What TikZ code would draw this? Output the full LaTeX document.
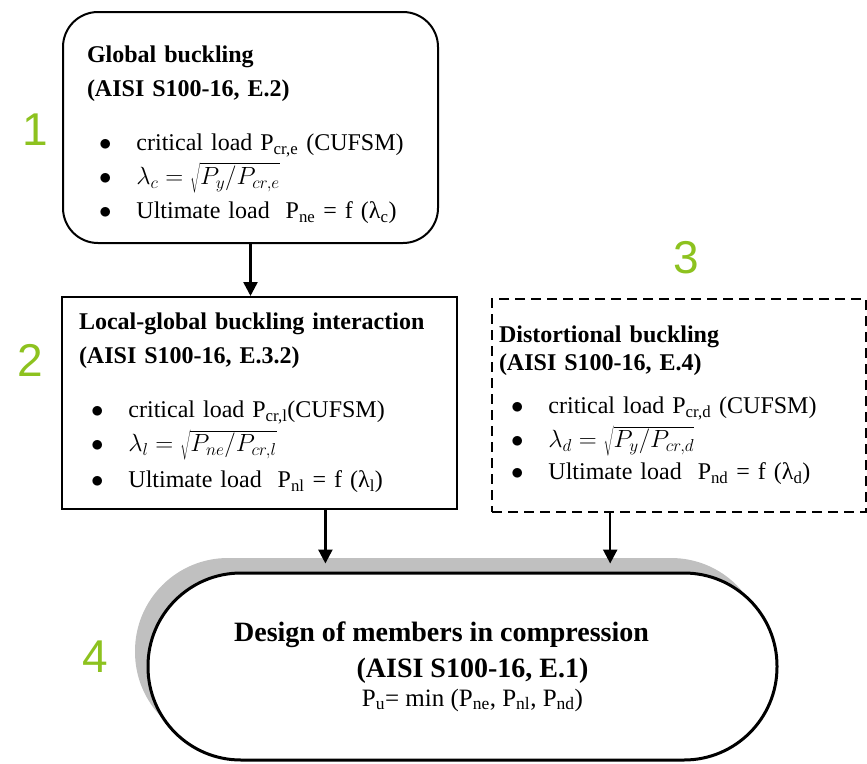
\documentclass[tikz,border=0pt]{standalone}
\usepackage{fontspec}
\setmainfont{Liberation Serif}
\newfontfamily\numfont{Liberation Sans}
\usetikzlibrary{arrows.meta, shadows, calc}
\definecolor{cgreen}{HTML}{8DC21F}
\definecolor{cshade}{HTML}{C0C0C0}
% bullet item for the check lists
\newcommand{\itm}{\hspace*{12pt}$\bullet$\hspace{25pt}}
\tikzset{
  every picture/.style={line width=2pt},
  box/.style={draw, anchor=north west, align=left, inner ysep=0pt, font=\fontsize{24}{34}\selectfont},
  capsule/.style={draw, line width=3pt, fill=white, rounded corners=93pt, align=center,
    minimum width=629pt, minimum height=187pt, inner sep=0pt, font=\fontsize{28}{36}\selectfont,
    general shadow={fill=cshade, shadow xshift=-13pt, shadow yshift=15pt}},
  arrow/.style={-{Triangle[length=14pt, width=14pt]}, line width=2.5pt},
  num/.style={font=\numfont\fontsize{46}{46}\selectfont, text=cgreen},
}

\begin{document}
\begin{tikzpicture}[x=1pt, y=-1pt]
  \useasboundingbox (0,0) rectangle (867,763);

  % the three buckling checks
  \node[box, rounded corners=35pt, minimum width=375pt, minimum height=231pt,
        text width=327pt, inner xsep=24pt] (glob) at (62,11) {%
    \rule{0pt}{31pt}\textbf{Global buckling}\\
    \textbf{(AISI S100-16, E.2)}\\[20pt]
    \itm critical load P\textsubscript{cr,e} (CUFSM)\\
    \itm $\lambda_c = \sqrt{P_y/P_{cr,e}}$\\
    \itm Ultimate load\ \ P\textsubscript{ne} = f (λ\textsubscript{c})};
  \node[box, minimum width=395pt, minimum height=212pt,
        text width=361pt, inner xsep=17pt] (loc) at (61,296) {%
    \textbf{Local-global buckling interaction}\\
    \textbf{(AISI S100-16, E.3.2)}\\[20pt]
    \itm critical load P\textsubscript{cr,l}(CUFSM)\\
    \itm $\lambda_l = \sqrt{P_{ne}/P_{cr,l}}$\\[2pt]
    \itm Ultimate load\ \ P\textsubscript{nl} = f (λ\textsubscript{l})};
  \node[box, dash pattern=on 10pt off 6pt, minimum width=374pt, minimum height=213pt,
        text width=360pt, inner xsep=7pt] (dist) at (491,298) {%
    \textbf{Distortional buckling}\\[-6pt]
    \textbf{(AISI S100-16, E.4)}\\[9pt]
    \itm critical load P\textsubscript{cr,d} (CUFSM)\\
    \itm $\lambda_d = \sqrt{P_y/P_{cr,d}}$\\[-2pt]
    \itm Ultimate load\ \ P\textsubscript{nd} = f (λ\textsubscript{d})};

  % final design check
  \node[capsule] (design) at (462.5,666.5) {%
    \textbf{Design of members in compression}\hspace*{42pt}\\
    \hspace*{20pt}\textbf{(AISI S100-16, E.1)}\\[-7pt]
    \hspace*{20pt}\fontsize{25}{29}\selectfont P\textsubscript{u}= min (P\textsubscript{ne}, P\textsubscript{nl}, P\textsubscript{nd})};

  % step numbers
  \node[num] (n1) at (35,130) {1};
  \node[num] (n2) at (30,360) {2};
  \node[num] (n3) at (686,258) {3};
  \node[num] (n4) at (95,657) {4};

  % flow
  \coordinate (l2) at ($(loc.south west)!0.666!(loc.south east)$);
  \coordinate (d2) at ($(dist.south west)!0.317!(dist.south east)$);
  \draw[arrow] (glob.south) -- (glob.south |- loc.north);
  \draw[arrow, shorten >=8pt] (l2) -- (l2 |- design.north);
  \draw[arrow, shorten >=8pt] (d2) -- (d2 |- design.north);
\end{tikzpicture}
\end{document}
